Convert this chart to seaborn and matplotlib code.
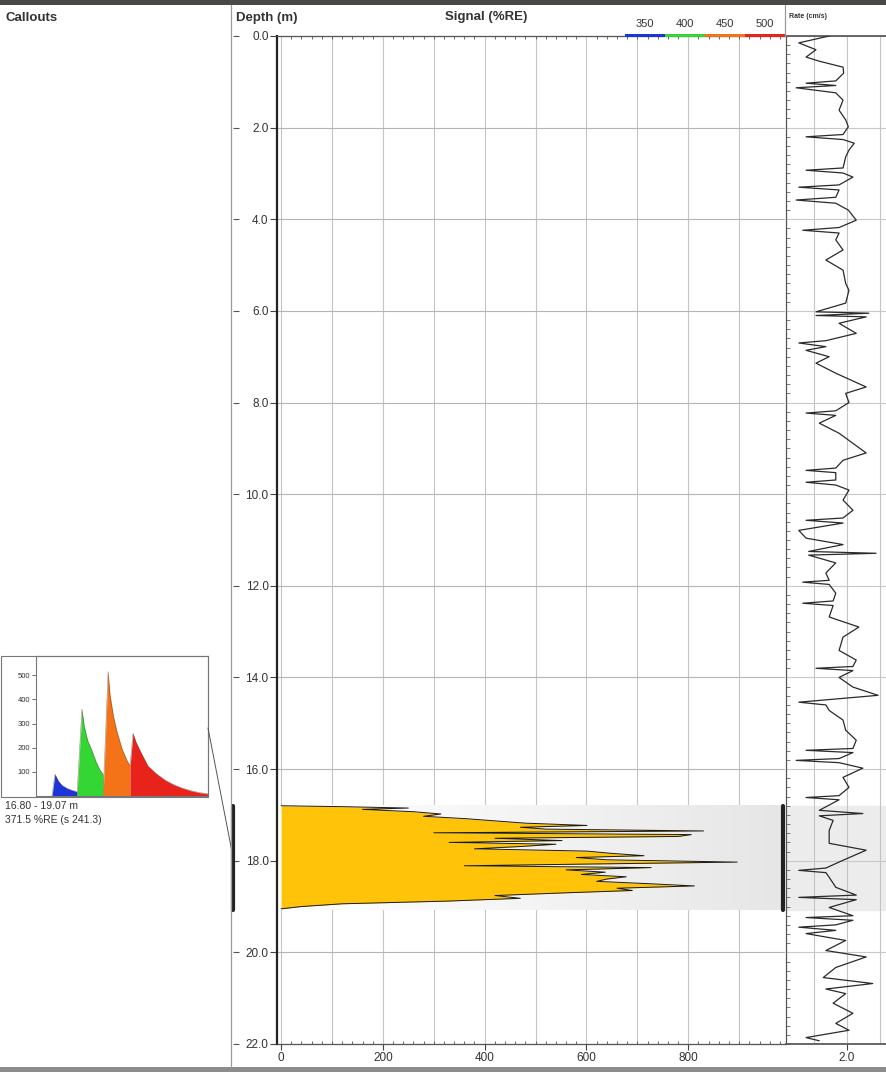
import numpy as np
import pandas as pd
import matplotlib
matplotlib.use("Agg")
import matplotlib.pyplot as plt
import seaborn as sns
from matplotlib.lines import Line2D
from matplotlib.patches import Rectangle
from matplotlib.colors import LinearSegmentedColormap
from matplotlib.ticker import MultipleLocator

# ---------------- data ----------------
signal_depth = [16.80, 16.82, 16.85, 16.88, 16.93, 16.98, 17.03, 17.08, 17.13, 17.18,
                17.23, 17.27, 17.31, 17.35, 17.39, 17.43, 17.47, 17.51, 17.56, 17.60,
                17.64, 17.69, 17.74, 17.79, 17.84, 17.89, 17.93, 17.98, 18.03, 18.07,
                18.11, 18.15, 18.20, 18.25, 18.30, 18.35, 18.40, 18.45, 18.50, 18.55,
                18.60, 18.65, 18.70, 18.76, 18.82, 18.88, 18.94, 19.00, 19.05]
signal_value = [0, 120, 250, 160, 260, 314, 280, 360, 420, 480,
                601, 470, 520, 830, 300, 806, 780, 420, 552, 330,
                540, 470, 380, 601, 650, 713, 580, 640, 896, 620,
                360, 727, 560, 637, 590, 678, 640, 620, 720, 812,
                660, 690, 560, 420, 470, 330, 120, 40, 0]

rate_log = [(0.00, 1.73), (0.15, 1.27), (0.30, 1.53), (0.46, 1.38), (0.55, 1.58), (0.68, 1.94),
            (0.81, 1.95), (0.98, 1.83), (1.03, 1.38), (1.08, 1.83), (1.13, 1.23), (1.24, 1.83),
            (1.40, 1.94), (1.62, 1.88), (1.83, 1.98), (1.98, 2.02), (2.15, 1.94), (2.20, 1.38),
            (2.26, 1.94), (2.34, 2.11), (2.49, 2.03), (2.64, 1.98), (2.88, 1.94), (2.93, 1.38),
            (2.99, 1.94), (3.08, 2.09), (3.25, 1.88), (3.30, 1.27), (3.36, 1.88), (3.52, 1.83),
            (3.58, 1.23), (3.65, 1.83), (3.80, 2.02), (4.02, 2.14), (4.18, 1.88), (4.24, 1.33),
            (4.30, 1.88), (4.45, 1.83), (4.67, 1.94), (4.89, 1.68), (5.11, 1.94), (5.40, 1.98),
            (5.55, 2.03), (5.83, 1.98), (6.02, 1.53), (6.05, 2.33), (6.10, 1.53), (6.13, 2.29),
            (6.27, 1.88), (6.49, 2.14), (6.65, 1.68), (6.70, 1.27), (6.78, 1.68), (6.86, 1.38),
            (7.00, 1.73), (7.14, 1.53), (7.36, 1.83), (7.66, 2.29), (7.80, 1.98), (8.00, 2.03),
            (8.18, 1.83), (8.23, 1.38), (8.28, 1.83), (8.45, 1.58), (8.67, 1.88), (8.89, 2.09),
            (9.10, 2.29), (9.26, 1.94), (9.43, 1.83), (9.48, 1.38), (9.53, 1.83), (9.69, 1.83),
            (9.74, 1.38), (9.80, 1.83), (9.91, 2.03), (10.13, 1.94), (10.35, 2.09), (10.52, 1.94),
            (10.57, 1.38), (10.63, 1.94), (10.79, 1.27), (10.96, 1.38), (11.10, 1.94), (11.25, 1.42),
            (11.29, 2.44), (11.33, 1.42), (11.50, 1.83), (11.72, 1.68), (11.88, 1.73), (11.92, 1.33),
            (11.97, 1.73), (12.16, 1.83), (12.33, 1.79), (12.38, 1.33), (12.43, 1.79), (12.68, 1.73),
            (12.90, 2.18), (13.12, 1.94), (13.41, 1.88), (13.62, 2.14), (13.76, 2.09), (13.80, 1.53),
            (13.85, 2.09), (14.00, 1.88), (14.21, 2.09), (14.39, 2.47), (14.54, 1.27), (14.60, 1.68),
            (14.72, 1.73), (14.93, 1.94), (15.15, 1.98), (15.37, 2.14), (15.55, 2.09), (15.59, 1.38),
            (15.64, 2.09), (15.77, 1.88), (15.81, 1.23), (15.86, 1.88), (15.98, 2.24), (16.18, 1.94),
            (16.40, 2.03), (16.58, 1.88), (16.62, 1.38), (16.67, 1.88), (16.90, 1.58), (16.97, 2.24),
            (17.02, 1.58), (17.12, 1.79), (17.34, 1.73), (17.62, 1.73), (17.77, 2.29), (17.99, 1.94),
            (18.16, 1.68), (18.21, 1.27), (18.26, 1.68), (18.36, 1.73), (18.58, 1.83), (18.75, 2.14),
            (18.80, 1.27), (18.85, 2.14), (19.02, 1.73), (19.20, 2.09), (19.24, 1.38), (19.30, 2.09),
            (19.40, 1.83), (19.45, 1.27), (19.52, 1.83), (19.59, 1.38), (19.74, 1.98), (19.96, 1.68),
            (20.10, 2.29), (20.33, 1.83), (20.55, 1.64), (20.68, 2.39), (20.80, 1.68), (20.90, 1.98),
            (21.11, 1.79), (21.33, 2.09), (21.55, 1.83), (21.70, 2.03), (21.86, 1.38), (21.93, 1.58)]

# callout spectrum (gate, amplitude) per colour class
spec_blue_gate = [9.3, 11, 13, 15, 18, 21, 23.8]
spec_blue_amp = [0, 90, 62, 45, 32, 24, 18]
spec_green_gate = [23.8, 26.7, 28, 30, 32.6, 35, 37, 39]
spec_green_amp = [0, 360, 290, 230, 186, 140, 110, 90]
spec_orange_gate = [39, 41.9, 43, 45, 47, 50, 53, 54.7]
spec_orange_amp = [0, 515, 420, 330, 268, 195, 145, 125]
spec_red_gate = [54.7, 56.4, 58, 61, 65, 70, 75, 80, 85, 90, 95, 100]
spec_red_amp = [125, 260, 225, 180, 125, 92, 66, 47, 33, 22, 14, 9]

legend_labels = ["350", "400", "450", "500"]
class_colors = ["#1a35d8", "#33d633", "#f47318", "#e8231c"]
depth_ticks = [0, 2, 4, 6, 8, 10, 12, 14, 16, 18, 20, 22]
signal_ticks = [0, 200, 400, 600, 800]
callout_top, callout_bottom = 16.80, 19.07
callout_text = ["16.80 - 19.07 m", "371.5 %RE (s 241.3)"]

# ---------------- style ----------------
sns.set_theme(style="white")
plt.rcParams["font.family"] = ["Liberation Sans", "DejaVu Sans"]

W, H = 887, 1072
fig = plt.figure(figsize=(W / 100, H / 100), dpi=100)
fig.patch.set_facecolor("white")


def rect(l, t, r, b):
    return [l / W, 1 - b / H, (r - l) / W, (b - t) / H]


def fx(x):
    return x / W


def fy(y):
    return 1 - y / H


GRID = "#c4c4c4"
TXT = "#333333"

# ---------------- signal track ----------------
ax = fig.add_axes(rect(277, 36, 785, 1044))
ax.set_xlim(-8, 990)
ax.set_ylim(22, 0)
ax.set_xticks(signal_ticks)
ax.set_xticklabels([str(t) for t in signal_ticks])
ax.xaxis.set_minor_locator(MultipleLocator(20))
for gx in range(0, 1000, 100):
    ax.axvline(gx, color=GRID, lw=0.8, zorder=0)
for gy in depth_ticks:
    ax.axhline(gy, color="#b5b5b5", lw=0.8, zorder=0)
ax.set_yticks(depth_ticks)
ax.set_yticklabels([f"{t:.1f}" for t in depth_ticks])
ax.tick_params(axis="y", which="major", left=True, length=5, width=0.8, color="#444",
               labelsize=8.5, labelcolor=TXT, pad=1)
ax.tick_params(axis="x", which="major", bottom=True, length=4, width=0.8, color="#444",
               labelsize=8.5, labelcolor=TXT, pad=2)
ax.tick_params(axis="x", which="minor", bottom=True, top=True, direction="in", length=2.5,
               width=0.7, color="#666")
for s in ["top", "bottom"]:
    ax.spines[s].set_color("#555")
    ax.spines[s].set_linewidth(0.9)
ax.spines["left"].set_color("#222")
ax.spines["left"].set_linewidth(1.6)
ax.spines["right"].set_visible(False)

# grey highlight band (gradient)
grad = np.linspace(0, 1, 256).reshape(1, -1)
cmap = LinearSegmentedColormap.from_list("band", ["#ffffff", "#f4f4f4", "#e6e6e6"])
ax.imshow(grad, extent=(-8, 990, callout_bottom, callout_top), aspect="auto", cmap=cmap,
          zorder=0.5, interpolation="bicubic")
ax.set_xlim(-8, 990)
ax.set_ylim(22, 0)

sig = pd.DataFrame({"depth": signal_depth, "value": signal_value})
ax.fill_betweenx(sig["depth"], 0, sig["value"], color="#ffc40a", lw=0, zorder=2)
sns.lineplot(data=sig, x="value", y="depth", sort=False, estimator=None, color="#1a1a1a",
             lw=0.7, ax=ax, zorder=3)
ax.set_xlabel("")
ax.set_ylabel("")

# ---------------- depth helper (left dashes) ----------------
axd = fig.add_axes(rect(233, 36, 277, 1044))
axd.set_ylim(22, 0)
axd.set_xlim(0, 1)
axd.set_yticks(depth_ticks)
axd.set_yticklabels([])
axd.set_xticks([])
axd.tick_params(axis="y", left=True, direction="in", length=4, width=0.8, color="#555")
for s in axd.spines.values():
    s.set_visible(False)
axd.patch.set_alpha(0)

# ---------------- rate track ----------------
axr = fig.add_axes(rect(786, 36, 887, 1044))
axr.set_xlim(1.076, 2.606)
axr.set_ylim(22, 0)
axr.axhspan(callout_top, callout_bottom, color="#ececec", zorder=0)
for gx in [1.5, 2.0, 2.5]:
    axr.axvline(gx, color=GRID, lw=0.8, zorder=0.6)
for gy in depth_ticks:
    axr.axhline(gy, color="#c8c8c8", lw=0.8, zorder=0.6)
rate = pd.DataFrame(rate_log, columns=["depth", "rate"])
sns.lineplot(data=rate, x="rate", y="depth", sort=False, estimator=None, color="#2a2a2a",
             lw=0.9, ax=axr, zorder=3)
axr.set_xlabel("")
axr.set_ylabel("")
axr.set_xticks([2.0])
axr.set_xticklabels(["2.0"])
axr.set_yticks(depth_ticks)
axr.set_yticklabels([])
axr.yaxis.set_minor_locator(MultipleLocator(0.2))
axr.tick_params(axis="x", bottom=True, length=4, width=0.8, color="#444", labelsize=8.5,
                labelcolor=TXT, pad=2)
axr.tick_params(axis="y", which="both", left=True, direction="in", length=3, width=0.7,
                color="#777")
axr.spines["left"].set_color("#555")
axr.spines["left"].set_linewidth(0.9)
axr.spines["bottom"].set_color("#555")
axr.spines["top"].set_color("#555")
axr.spines["right"].set_visible(False)

# ---------------- callout inset ----------------
axi = fig.add_axes(rect(36, 656, 208, 796))
axi.set_xlim(0, 100)
axi.set_ylim(0, 580)
spectra = [(spec_blue_gate, spec_blue_amp), (spec_green_gate, spec_green_amp),
           (spec_orange_gate, spec_orange_amp), (spec_red_gate, spec_red_amp)]
for (g, a), c in zip(spectra, class_colors):
    axi.fill_between(g, 0, a, color=c, lw=0, zorder=2)
    sns.lineplot(x=g, y=a, sort=False, estimator=None, color="#5a3020", lw=0.4, alpha=0.6,
                 ax=axi, zorder=3)
axi.set_xticks([])
axi.set_yticks([100, 200, 300, 400, 500])
axi.tick_params(axis="y", left=True, length=3, width=0.6, color="#555", labelsize=5.5,
                labelcolor=TXT, pad=1)
for s in axi.spines.values():
    s.set_color("#777")
    s.set_linewidth(0.8)
fig.add_artist(Rectangle((fx(1), fy(797)), fx(207), (797 - 656) / H, transform=fig.transFigure,
                         fill=False, ec="#777", lw=0.8))
fig.add_artist(Line2D([fx(208), fx(233)], [fy(728), fy(857)], color="#555", lw=0.7))
fig.text(fx(5), fy(806), callout_text[0], fontsize=7.5, color=TXT, va="center")
fig.text(fx(5), fy(820), callout_text[1], fontsize=7.5, color=TXT, va="center")

# callout markers (black bars)
y_t = 36 + callout_top * (1008 / 22)
y_b = 36 + callout_bottom * (1008 / 22)
fig.add_artist(Line2D([fx(233), fx(233)], [fy(y_t), fy(y_b)], color="#222", lw=3))
fig.add_artist(Line2D([fx(783), fx(783)], [fy(y_t), fy(y_b)], color="#222", lw=3))

# ---------------- frame / header ----------------
fig.add_artist(Rectangle((0, fy(5)), 1, 5 / H, transform=fig.transFigure, color="#4a4a44", lw=0))
fig.add_artist(Rectangle((0, 0), 1, 5 / H, transform=fig.transFigure, color="#8c8c8c", lw=0))
fig.add_artist(Line2D([fx(231), fx(231)], [fy(5), fy(1067)], color="#9a9a9a", lw=0.9))
fig.add_artist(Line2D([fx(785.5), fx(785.5)], [fy(5), fy(36)], color="#9a9a9a", lw=0.9))

fig.text(fx(6), fy(18), "Callouts", fontsize=9.5, fontweight="bold", color="#333", va="center")
fig.text(fx(236), fy(18), "Depth (m)", fontsize=9.5, fontweight="bold", color="#333", va="center")
fig.text(fx(445), fy(17), "Signal (%RE)", fontsize=9.5, fontweight="bold", color="#333",
         va="center")
fig.text(fx(789), fy(17), "Rate (cm/s)", fontsize=5, fontweight="bold", color="#333",
         va="center")

seg_w = 40
for i, (lab, c) in enumerate(zip(legend_labels, class_colors)):
    x0 = 625 + i * seg_w
    fig.add_artist(Rectangle((fx(x0), fy(37)), seg_w / W, 3.5 / H, transform=fig.transFigure,
                             color=c, lw=0))
    fig.text(fx(x0 + seg_w / 2), fy(24), lab, fontsize=8, color=TXT, ha="center",
             va="center")

fig.savefig("out.png", dpi=100, facecolor="white")
